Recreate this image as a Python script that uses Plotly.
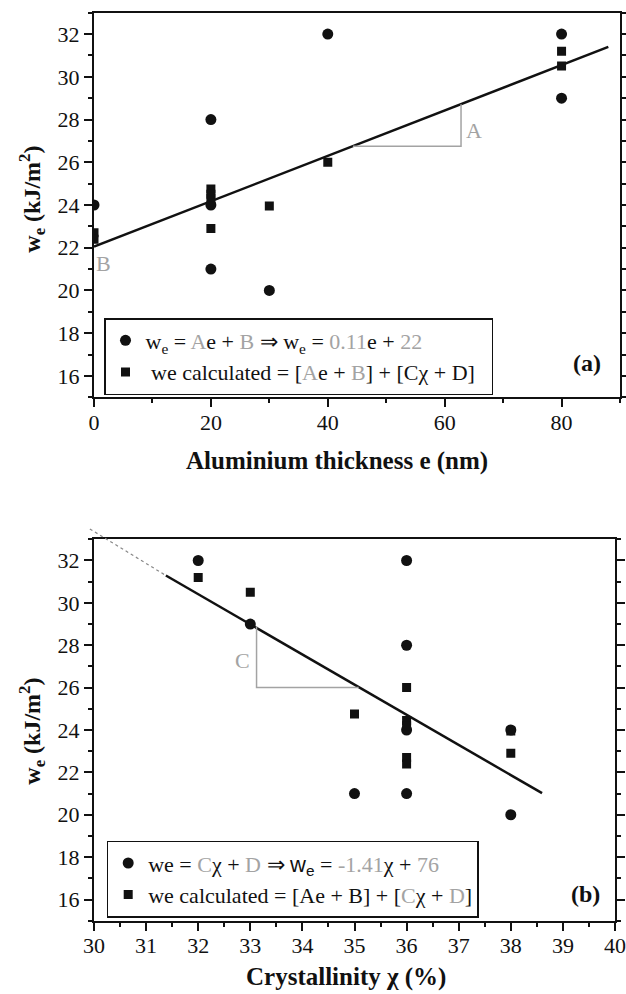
import plotly.graph_objects as go

# ---------------- data ----------------
# (a) aluminium thickness
e_meas = [0, 20, 20, 20, 30, 40, 80, 80]
we_meas_a = [24, 28, 24, 21, 20, 32, 32, 29]
e_calc = [0, 0, 20, 20, 20, 20, 30, 40, 80, 80]
we_calc_a = [22.7, 22.4, 24.75, 24.5, 24.3, 22.9, 23.95, 26.0, 31.2, 30.5]
fit_a_x = [0, 88]
fit_a_y = [22.05, 31.4]
tri_a_x = [44.3, 62.8, 62.8]
tri_a_y = [26.75, 26.75, 28.72]

# (b) crystallinity
chi_meas = [32, 33, 35, 36, 36, 36, 36, 38, 38]
we_meas_b = [32, 29, 21, 32, 28, 24, 21, 24, 20]
chi_calc = [32, 33, 35, 36, 36, 36, 36, 36, 38, 38]
we_calc_b = [31.2, 30.5, 24.75, 26.0, 24.45, 24.2, 22.7, 22.4, 23.95, 22.9]
fit_b_x = [31.38, 38.6]
fit_b_y = [31.29, 21.02]
ext_b_x = [29.92, 31.38]
ext_b_y = [33.49, 31.29]
tri_c_x = [33.12, 33.12, 35.08]
tri_c_y = [28.9, 26.0, 26.0]

xa_range = [0, 90]
xb_range = [30, 40]
y_range = [15, 33]
xa_ticks = [0, 20, 40, 60, 80]
xb_ticks = [30, 31, 32, 33, 34, 35, 36, 37, 38, 39, 40]
y_ticks = [16, 18, 20, 22, 24, 26, 28, 30, 32]

W, H = 626, 994
FONT = "Liberation Serif"
G = "#a3a3a3"
BLACK = "#111111"


def g(t):
    return f"<span style='color:{G}'>{t}</span>"


NBSP = "\u00a0"
leg_a1 = f"w<sub>e</sub> = {g('A')}e + {g('B')} \u21d2 w<sub>e</sub> = {g('0.11')}e + {g('22')}"
leg_a2 = f"{NBSP}we calculated = [{g('A')}e + {g('B')}] + [C\u03c7 + D]{NBSP}{NBSP}"
leg_b1 = (f"we = {g('C')}\u03c7 + {g('D')} \u21d2 "
          f"<span style='font-family:Liberation Sans'>w<sub>e</sub></span> = {g('-1.41')}\u03c7 + {g('76')}")
leg_b2 = f"we calculated = [Ae + B] + [{g('C')}\u03c7 + {g('D')}]"

fig = go.Figure()

# ---- panel (a)
fig.add_trace(go.Scatter(x=fit_a_x, y=fit_a_y, mode="lines", line=dict(color=BLACK, width=2.5),
                         showlegend=False, xaxis="x", yaxis="y"))
fig.add_trace(go.Scatter(x=tri_a_x, y=tri_a_y, mode="lines", line=dict(color=G, width=1.5),
                         showlegend=False, xaxis="x", yaxis="y"))
fig.add_trace(go.Scatter(x=e_meas, y=we_meas_a, mode="markers", name=leg_a1, legend="legend",
                         legendgroup="a1",
                         marker=dict(symbol="circle", size=11, color=BLACK), xaxis="x", yaxis="y"))
fig.add_trace(go.Scatter(x=e_calc, y=we_calc_a, mode="markers", name=leg_a2, legend="legend",
                         legendgroup="a2",
                         marker=dict(symbol="square", size=9, color=BLACK), xaxis="x", yaxis="y"))

# ---- panel (b)
fig.add_trace(go.Scatter(x=fit_b_x, y=fit_b_y, mode="lines", line=dict(color=BLACK, width=2.5),
                         showlegend=False, xaxis="x2", yaxis="y2"))
fig.add_trace(go.Scatter(x=tri_c_x, y=tri_c_y, mode="lines", line=dict(color=G, width=1.5),
                         showlegend=False, xaxis="x2", yaxis="y2"))
fig.add_trace(go.Scatter(x=chi_meas, y=we_meas_b, mode="markers", name=leg_b1, legend="legend2",
                         legendgroup="b1",
                         marker=dict(symbol="circle", size=11, color=BLACK), xaxis="x2", yaxis="y2"))
fig.add_trace(go.Scatter(x=chi_calc, y=we_calc_b, mode="markers", name=leg_b2, legend="legend2",
                         legendgroup="b2",
                         marker=dict(symbol="square", size=9, color=BLACK), xaxis="x2", yaxis="y2"))


# dotted extension of fit (b) drawn in axis-domain coordinates so it can leave the frame
def dom(v, r):
    return (v - r[0]) / (r[1] - r[0])


fig.add_shape(type="line", xref="x2 domain", yref="y2 domain",
              x0=dom(ext_b_x[0], xb_range), y0=dom(ext_b_y[0], y_range),
              x1=dom(ext_b_x[1], xb_range), y1=dom(ext_b_y[1], y_range),
              line=dict(color="#888888", width=1.2, dash="dot"))

# ---- axes
tickfont = dict(family=FONT, size=22, color=BLACK)


def axis_common(**kw):
    d = dict(showline=True, linewidth=2, linecolor=BLACK, ticks="outside", ticklen=8, tickwidth=2,
             tickcolor=BLACK, tickfont=tickfont, showgrid=False, zeroline=False, automargin=False)
    d.update(kw)
    return d


def minor(dt):
    return dict(ticks="outside", ticklen=4, tickwidth=1.5, tickcolor=BLACK, dtick=dt, tick0=0,
                showgrid=False)


dom_x_a = [94 / W, 620 / W]
dom_x_b = [94 / W, 615 / W]
dom_y_a = [1 - 397.3 / H, 1 - 12.7 / H]
dom_y_b = [1 - 920.7 / H, 1 - 539.3 / H]

fig.update_layout(
    xaxis=axis_common(domain=dom_x_a, range=xa_range, anchor="y", tickvals=xa_ticks, mirror=True,
                      minor=minor(10), ticklabelstandoff=-4),
    yaxis=axis_common(domain=dom_y_a, range=y_range, anchor="x", tickvals=y_ticks, mirror="ticks",
                      minor=minor(1)),
    xaxis2=axis_common(domain=dom_x_b, range=xb_range, anchor="y2", tickvals=xb_ticks, mirror=True,
                       minor=minor(0.5), ticklabelstandoff=-4),
    yaxis2=axis_common(domain=dom_y_b, range=y_range, anchor="x2", tickvals=y_ticks, mirror="ticks",
                       minor=minor(1)),
)

legend_common = dict(xanchor="left", yanchor="top", bordercolor=BLACK, borderwidth=1.5,
                     bgcolor="white", font=dict(family=FONT, size=22, color=BLACK),
                     traceorder="grouped", tracegroupgap=0, itemclick=False)
fig.update_layout(
    legend=dict(x=104 / W, y=1 - 318 / H, **legend_common),
    legend2=dict(x=106.7 / W, y=1 - 840.7 / H, **legend_common),
)

# ---- annotations
ann = []
lbl_font = dict(family=FONT, size=22, color=G)
c = dict(showarrow=False, xanchor="center", yanchor="middle")
ann.append(dict(x=65.1, y=27.5, xref="x", yref="y", text="A", font=lbl_font, **c))
ann.append(dict(x=1.6, y=21.25, xref="x", yref="y", text="B", font=lbl_font, **c))
ann.append(dict(x=32.85, y=27.3, xref="x2", yref="y2", text="C", font=lbl_font, **c))
ann.append(dict(x=30.24, y=33.96, xref="x2", yref="y2", text="D", font=lbl_font, **c))
bold24 = dict(family=FONT, size=24, color=BLACK)
bold25 = dict(family=FONT, size=25, color=BLACK)
ann.append(dict(x=84.4, y=16.6, xref="x", yref="y", text="<b>(a)</b>", font=bold24, **c))
ann.append(dict(x=39.44, y=16.25, xref="x2", yref="y2", text="<b>(b)</b>", font=bold24, **c))
# axis titles
ytitle = "<b>w<sub>e</sub> (kJ/m<sup>2</sup>)</b>"
ann.append(dict(x=31.7 / W, y=1 - 199 / H, xref="paper", yref="paper", text=ytitle, textangle=-90,
                font=bold24, **c))
ann.append(dict(x=31.7 / W, y=1 - 731 / H, xref="paper", yref="paper", text=ytitle, textangle=-90,
                font=bold24, **c))
ann.append(dict(x=337 / W, y=1 - 461 / H, xref="paper", yref="paper",
                text="<b>Aluminium thickness e (nm)</b>", font=bold25, **c))
ann.append(dict(x=346 / W, y=1 - 977 / H, xref="paper", yref="paper",
                text="<b>Crystallinity \u03c7 (%)</b>", font=bold25, **c))

fig.update_layout(
    annotations=ann,
    width=W, height=H,
    margin=dict(l=0, r=0, t=0, b=0),
    paper_bgcolor="white", plot_bgcolor="white",
    font=dict(family=FONT, color=BLACK),
)

fig.write_html("out.html", config={"displayModeBar": False},
               post_script="document.body.style.margin='0px';")

# make sure the page itself has no default body margin
with open("out.html", "r", encoding="utf-8") as f:
    html = f.read()
html = html.replace("<head>", "<head><style>html,body{margin:0;padding:0;overflow:hidden;}</style>", 1)
with open("out.html", "w", encoding="utf-8") as f:
    f.write(html)
